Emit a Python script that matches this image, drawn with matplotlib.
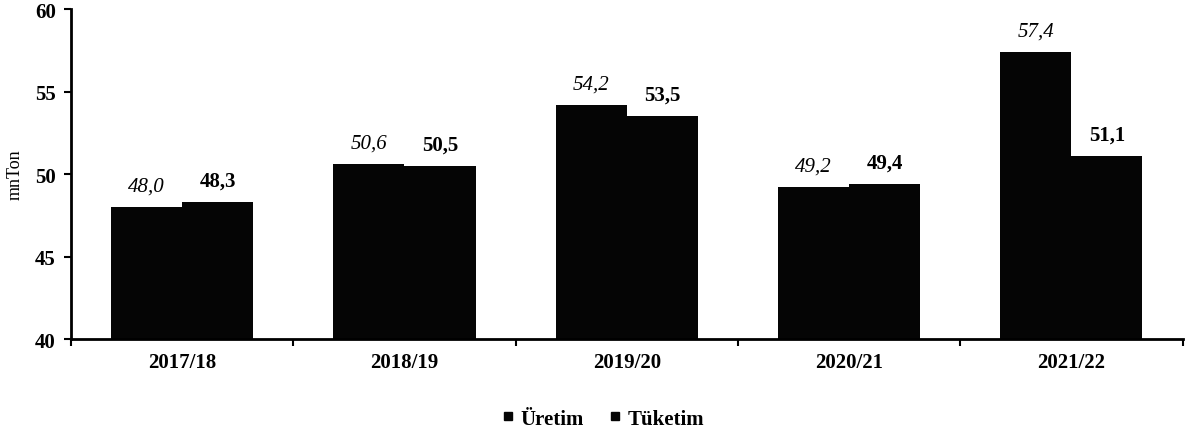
import numpy as np
import matplotlib.pyplot as plt
from matplotlib.lines import Line2D

# data
seasons = ['2017/18', '2018/19', '2019/20', '2020/21', '2021/22']
uretim = [48.0, 50.6, 54.2, 49.2, 57.4]
tuketim = [48.3, 50.5, 53.5, 49.4, 51.1]

plt.rcParams['font.family'] = ['Liberation Serif', 'DejaVu Serif']

fig = plt.figure(figsize=(11.9, 4.35), dpi=100)
ax = fig.add_axes([0.0597, 0.218, 0.934, 0.759])

x = np.arange(len(seasons))
w = 0.32
ax.bar(x - w/2, uretim, w, color='#050505')
ax.bar(x + w/2, tuketim, w, color='#050505')

def fmt(v):
    return ('%.1f' % v).replace('.', ',')

for i in range(len(seasons)):
    ax.text(x[i] - w/2, uretim[i] + 0.7, fmt(uretim[i]), ha='center', va='bottom',
            fontsize=15, style='italic')
    ax.text(x[i] + w/2, tuketim[i] + 0.7, fmt(tuketim[i]), ha='center', va='bottom',
            fontsize=15, fontweight='bold')

ax.set_ylim(40, 60)
ax.set_xlim(-0.5, len(seasons) - 0.5)
ax.set_yticks([40, 45, 50, 55, 60])
ax.set_xticks(x)
ax.set_xticklabels(seasons, fontsize=15, fontweight='bold')
ax.set_xticks(np.arange(len(seasons) + 1) - 0.5, minor=True)
ax.tick_params(axis='x', which='major', length=0, pad=9)
ax.tick_params(axis='x', which='minor', length=5, width=1.5, direction='out')
ax.tick_params(axis='y', length=5, width=1.5, direction='out', labelsize=15, pad=6)
for lab in ax.get_yticklabels():
    lab.set_fontweight('bold')
ax.set_ylabel('mnTon', fontsize=13, labelpad=8)

for s in ['top', 'right']:
    ax.spines[s].set_visible(False)
ax.spines['left'].set_linewidth(2)
ax.spines['bottom'].set_linewidth(2)

handles = [Line2D([], [], marker='s', linestyle='none', color='#050505', markersize=6),
           Line2D([], [], marker='s', linestyle='none', color='#050505', markersize=6)]
fig.legend(handles, ['Üretim', 'Tüketim'], loc='center', bbox_to_anchor=(0.507, 0.035),
           ncol=2, frameon=False, handlelength=0.6, handletextpad=0.3, columnspacing=1.2,
           prop={'size': 15, 'weight': 'bold'})

fig.savefig('out.png', dpi=100)
